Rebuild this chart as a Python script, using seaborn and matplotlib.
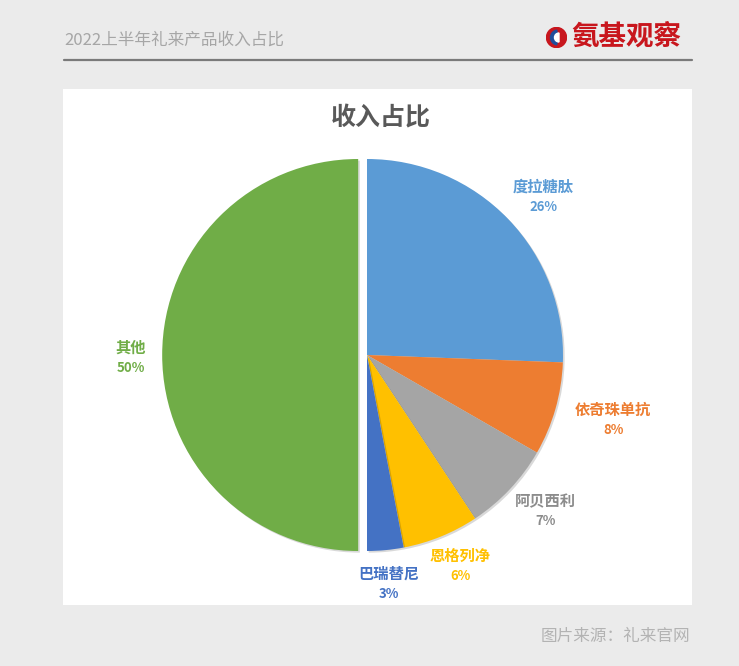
import matplotlib
matplotlib.use("Agg")
import matplotlib.pyplot as plt
import matplotlib.patheffects as pe
from matplotlib.patches import Rectangle, Circle, Wedge
import numpy as np
import seaborn as sns

sns.set_theme(style="white")
plt.rcParams['font.family'] = ['Noto Sans CJK SC', 'DejaVu Sans']
plt.rcParams['axes.unicode_minus'] = False

# 数据（收入占比 %）
products = ['度拉糖肽', '依奇珠单抗', '阿贝西利', '恩格列净', '巴瑞替尼', '其他']
shares = [25.6, 7.7, 7.4, 6.3, 3.0, 50.0]
colors = ['#5B9BD5', '#ED7D31', '#A5A5A5', '#FFC000', '#4472C4', '#70AD47']
label_colors = ['#5B9BD5', '#ED7D31', '#8C8C8C', '#FFC000', '#4472C4', '#70AD47']

# 标签位置：离圆心距离（按半径计）和角度微调
label_dist = [1.21, 1.30, 1.21, 1.176, 1.17, 1.16]
label_shift = [-2.0, 1.2, 2.0, 1.7, 0.0, 0.6]
explode = [0, 0, 0, 0, 0, 0.045]

W, H = 739, 666
fig = plt.figure(figsize=(W / 100, H / 100), dpi=100)
fig.patch.set_facecolor('#ebebeb')


def fx(x):
    return x / W


def fy(y):
    return 1 - y / H


# 页眉
fig.text(fx(64), fy(40), '2022上半年礼来产品收入占比', fontsize=12, color='#a6a6a6',
         ha='left', va='center')
fig.text(fx(681), fy(37), '氨基观察', fontsize=19.8, fontweight='heavy', color='#c8161d',
         ha='right', va='center')
fig.add_artist(plt.Line2D([fx(64), fx(692)], [fy(60), fy(60)], color='#7a7a7a', lw=1.6))

# logo 图标
ax_logo = fig.add_axes([fx(546), fy(48), 21 / W, 21 / H])
ax_logo.add_patch(Circle((0, 0), 1, color='#c8161d'))
ax_logo.add_patch(Wedge((0.15, 0), 0.75, 100, 260, color='#1f4e9c'))
ax_logo.add_patch(Wedge((0.25, 0), 0.45, 90, 270, color='white'))
ax_logo.set_xlim(-1.05, 1.05)
ax_logo.set_ylim(-1.05, 1.05)
ax_logo.set_aspect('equal')
ax_logo.axis('off')

# 白色面板
fig.add_artist(Rectangle((fx(63), fy(605)), 629 / W, 516 / H, transform=fig.transFigure,
                         facecolor='white', edgecolor='none', zorder=-1))

fig.text(fx(381), fy(118), '收入占比', fontsize=18, fontweight='bold', color='#595959',
         ha='center', va='center')

# 饼图
R = 196
cx, cy = 367, 355
ax = fig.add_axes([fx(cx - 1.5 * R), fy(cy + 1.5 * R), 3 * R / W, 3 * R / H])
wedges, _ = ax.pie(shares, colors=colors, startangle=90, counterclock=False,
                   explode=explode, wedgeprops=dict(linewidth=0))
for w in wedges:
    w.set_path_effects([pe.SimplePatchShadow(offset=(1.2, -1.2), shadow_rgbFace='black', alpha=0.15),
                        pe.Normal()])

for w, name, share, d, s, col in zip(wedges, products, shares, label_dist, label_shift, label_colors):
    ang = np.deg2rad((w.theta1 + w.theta2) / 2 + s)
    x0, y0 = w.center
    x = x0 + d * np.cos(ang)
    y = y0 + d * np.sin(ang)
    ax.annotate(name, (x, y), xytext=(0, 7.2), textcoords='offset points', ha='center',
                va='center', fontsize=11, fontweight='bold', color=col)
    ax.annotate(f'{share:.0f}%', (x, y), xytext=(0, -7.4), textcoords='offset points', ha='center',
                va='center', fontsize=9.5, fontweight='bold', color=col)

ax.set_xlim(-1.5, 1.5)
ax.set_ylim(-1.5, 1.5)
ax.axis('off')

# 页脚
fig.text(fx(690), fy(636), '图片来源：礼来官网', fontsize=12, color='#b3b3b3',
         ha='right', va='center')

plt.savefig('out.png', dpi=100, facecolor=fig.get_facecolor())
